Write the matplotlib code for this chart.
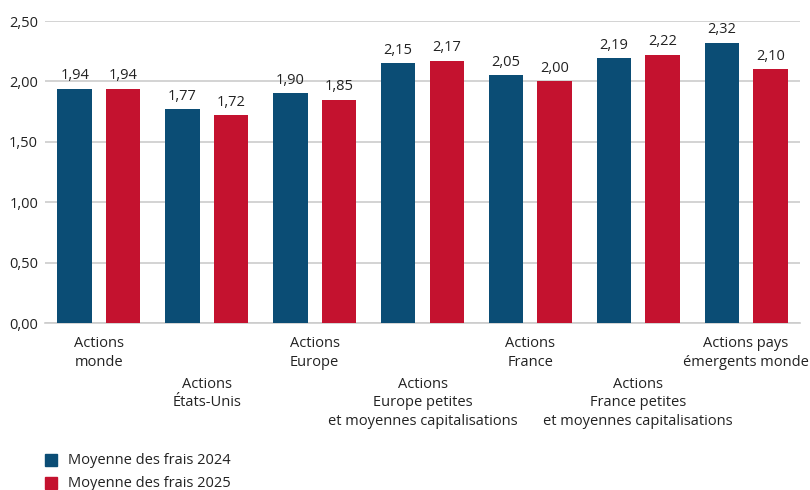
import numpy as np
import matplotlib.pyplot as plt

# Data
categories = [
    "Actions\nmonde",
    "Actions\nÉtats-Unis",
    "Actions\nEurope",
    "Actions\nEurope petites\net moyennes capitalisations",
    "Actions\nFrance",
    "Actions\nFrance petites\net moyennes capitalisations",
    "Actions pays\némergents monde",
]
frais_2024 = [1.94, 1.77, 1.90, 2.15, 2.05, 2.19, 2.32]
frais_2025 = [1.94, 1.72, 1.85, 2.17, 2.00, 2.22, 2.10]
series_names = ["Moyenne des frais 2024", "Moyenne des frais 2025"]
yticks = [0.0, 0.5, 1.0, 1.5, 2.0, 2.5]

blue = "#0b4d75"
red = "#c4122f"
txt = "#222222"

plt.rcParams["font.family"] = ["Open Sans", "DejaVu Sans"]

fig = plt.figure(figsize=(8.1, 4.9), dpi=100)
ax = fig.add_axes([45 / 810, 1 - 323 / 490, 755 / 810, 302 / 490])

x = np.arange(len(categories))
w = 0.32
off = 0.225
b1 = ax.bar(x - off, frais_2024, w, color=blue, zorder=3)
b2 = ax.bar(x + off, frais_2025, w, color=red, zorder=3)

for bars, vals in [(b1, frais_2024), (b2, frais_2025)]:
    for r, v in zip(bars, vals):
        ax.annotate(f"{v:.2f}".replace(".", ","),
                    (r.get_x() + r.get_width() / 2, v),
                    xytext=(0, 4), textcoords="offset points",
                    ha="center", va="bottom", fontsize=10.5, color=txt)

ax.set_xlim(-0.5, len(categories) - 0.5)
ax.set_ylim(0, 2.5)
ax.set_yticks(yticks)
ax.set_yticklabels([f"{t:.2f}".replace(".", ",") for t in yticks],
                   fontsize=10.5, color=txt)
ax.yaxis.grid(True, color="#cccccc", linewidth=1.2, zorder=0)
ax.tick_params(axis="y", length=0, pad=5)
ax.tick_params(axis="x", length=0)
for s in ["top", "right", "left"]:
    ax.spines[s].set_visible(False)
ax.spines["bottom"].set_color("#cccccc")
ax.spines["bottom"].set_linewidth(1.2)

ax.set_xticks(x)
ax.set_xticklabels([])
for i, lab in enumerate(categories):
    y = -0.11 if i % 2 == 0 else -0.445
    ax.text(i, y, lab, ha="center", va="top", fontsize=10.5,
            color=txt, linespacing=1.32,
            transform=ax.transData, clip_on=False)

# Legend
for k, (name, col) in enumerate(zip(series_names, [blue, red])):
    yy = 1 - (460 + k * 23) / 490
    fig.patches.append(plt.Rectangle((45 / 810, yy - 6 / 490), 12 / 810, 12 / 490,
                                     transform=fig.transFigure, color=col))
    fig.text(68 / 810, yy, name, ha="left", va="center", fontsize=10.5,
             color=txt)

fig.savefig("out.png", dpi=100)
